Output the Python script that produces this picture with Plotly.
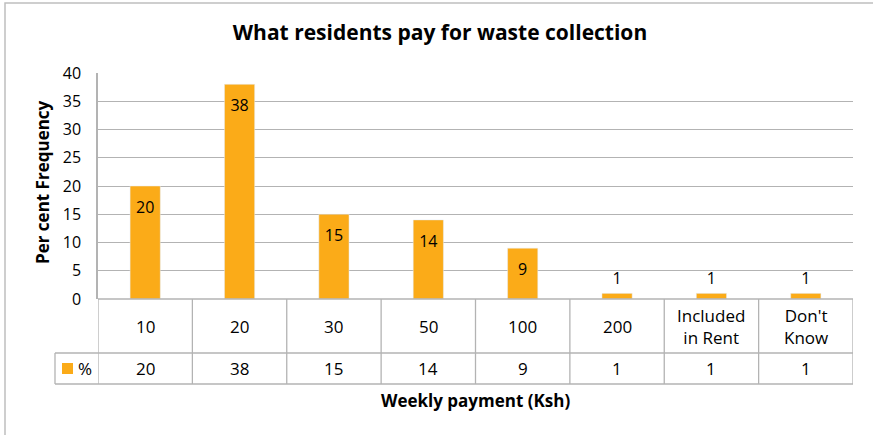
import plotly.graph_objects as go

categories = ["10", "20", "30", "50", "100", "200", "Included<br>in Rent", "Don't<br>Know"]
values = [20, 38, 15, 14, 9, 1, 1, 1]
series_name = "%"
title = "What residents pay for waste collection"
x_title = "Weekly payment (Ksh)"
y_title = "Per cent Frequency"

W, H = 873, 435
L, R, T, B = 98, 20, 73, 136
PH = H - T - B
ORANGE = "#FBAB18"
GRID = "#B3B3B3"
FONT = "Open Sans"


def py(pix):
    """pixel y (from top) -> paper fraction"""
    return (H - B - pix) / PH


def px(pix):
    return (pix - L) / (W - L - R)


n = len(categories)
xs = list(range(n))

fig = go.Figure()
fig.add_trace(go.Bar(x=xs, y=values, marker_color=ORANGE, width=0.32,
                     showlegend=False, hoverinfo="skip"))
# data labels
lab_y = [v - 4 if v > 5 else v + 2.4 for v in values]
fig.add_trace(go.Scatter(x=xs, y=lab_y, mode="text", text=[str(v) for v in values],
                         textfont=dict(family=FONT, size=16, color="black"),
                         showlegend=False, hoverinfo="skip"))

shapes = []
# outer frame
shapes.append(dict(type="rect", xref="paper", yref="paper", x0=px(5), x1=px(880),
                   y0=py(445), y1=py(3), line=dict(color="#BFBFBF", width=1.5), layer="below"))
# table lines
row1, row2 = 353, 384
for i in range(n + 1):
    shapes.append(dict(type="line", xref="x", yref="paper", x0=i - 0.5, x1=i - 0.5,
                       y0=py(row2), y1=0, line=dict(color=GRID, width=1.3)))
shapes.append(dict(type="line", xref="paper", yref="paper", x0=px(55), x1=px(55),
                   y0=py(row2), y1=py(row1), line=dict(color=GRID, width=1.3)))
shapes.append(dict(type="line", xref="paper", yref="paper", x0=px(55), x1=1,
                   y0=py(row1), y1=py(row1), line=dict(color=GRID, width=1.3)))
shapes.append(dict(type="line", xref="paper", yref="paper", x0=px(55), x1=1,
                   y0=py(row2), y1=py(row2), line=dict(color=GRID, width=1.3)))
shapes.append(dict(type="line", xref="paper", yref="paper", x0=0, x1=1,
                   y0=0, y1=0, line=dict(color=GRID, width=1.5)))
# legend key
shapes.append(dict(type="rect", xref="paper", yref="paper", x0=px(62), x1=px(73),
                   y0=py(374), y1=py(363), fillcolor=ORANGE, line=dict(width=0)))

annotations = []
for i, c in enumerate(categories):
    annotations.append(dict(x=i, y=py((299 + row1) / 2), xref="x", yref="paper",
                            xanchor="center", yanchor="middle",
                            text=c, showarrow=False,
                            font=dict(family=FONT, size=17, color="black")))
    annotations.append(dict(x=i, y=py((row1 + row2) / 2), xref="x", yref="paper",
                            xanchor="center", yanchor="middle",
                            text=str(values[i]), showarrow=False,
                            font=dict(family=FONT, size=17, color="black")))
annotations.append(dict(x=px(85), y=py((row1 + row2) / 2), xref="paper", yref="paper",
                        xanchor="center", yanchor="middle",
                        text=series_name, showarrow=False,
                        font=dict(family=FONT, size=17, color="black")))
annotations.append(dict(x=px(475), y=py(400), xref="paper", yref="paper",
                        xanchor="center", yanchor="middle",
                        text="<b>" + x_title + "</b>", showarrow=False,
                        font=dict(family=FONT, size=17, color="black")))
annotations.append(dict(x=px(42), y=py(182), xref="paper", yref="paper",
                        xanchor="center", yanchor="middle",
                        text="<b>" + y_title + "</b>", showarrow=False, textangle=-90,
                        font=dict(family=FONT, size=17, color="black")))

fig.update_layout(
    width=W, height=H,
    margin=dict(l=L, r=R, t=T, b=B),
    paper_bgcolor="white", plot_bgcolor="white",
    title=dict(text="<b>" + title + "</b>", x=px(440), xref="paper", y=1 - 33 / H,
               yanchor="middle", xanchor="center",
               font=dict(family=FONT, size=21, color="black")),
    xaxis=dict(range=[-0.5, n - 0.5], showticklabels=False, showgrid=False,
               zeroline=False, showline=False, fixedrange=True),
    yaxis=dict(range=[0, 40], dtick=5, showgrid=True, gridcolor=GRID, gridwidth=1.3,
               zeroline=False, showline=True, linecolor=GRID, linewidth=1.5,
               ticks="", ticklabelstandoff=12,
               tickfont=dict(family=FONT, size=16, color="black")),
    shapes=shapes, annotations=annotations,
)
fig.write_html("out.html", config={"displayModeBar": False},
               post_script="document.body.style.margin='0px';")
